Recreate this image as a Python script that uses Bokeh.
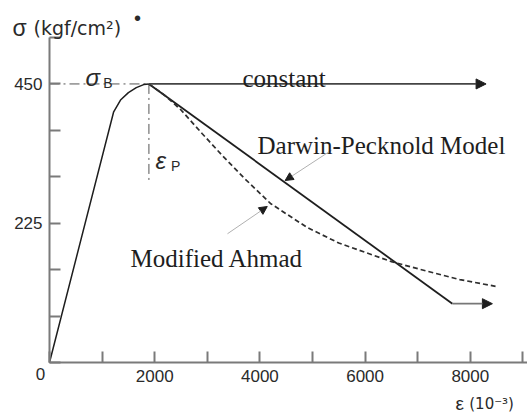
from bokeh.plotting import figure
from bokeh.models import Range1d, FixedTicker, Label, Arrow, NormalHead
from bokeh.embed import file_html
from bokeh.resources import INLINE

# Stress-strain model for concrete in compression (strain in 1e-6, stress in kgf/cm2)
rise_strain = [0, 1220, 1350, 1500, 1650, 1790, 1890]
rise_stress = [0, 405, 424, 436, 444, 449, 450]

peak_strain = 1890
peak_stress = 450

constant_strain = [1890, 8300]
constant_stress = [450, 450]

darwin_strain = [1890, 7660]
darwin_stress = [450, 95]
darwin_tail_strain = [7660, 8420]
darwin_tail_stress = [95, 95]

ahmad_strain = [1890, 2200, 2500, 2900, 3300, 3700, 4200, 4900, 5500, 6000, 6500, 7200, 7800, 8480]
ahmad_stress = [450, 431, 408, 370, 333, 298, 257, 218, 193, 178, 163, 147, 134, 123]

x_ticks = [0, 1000, 2000, 3000, 4000, 5000, 6000, 7000, 8000, 9000]
x_tick_labels = {2000: "2000", 4000: "4000", 6000: "6000", 8000: "8000"}
y_ticks = [0, 75, 150, 225, 300, 375, 450, 525]
y_tick_labels = {225: "225", 450: "450"}

AXIS = "#7a7a7a"
INK = "#1e1e1e"
SERIF = "Liberation Serif"
SANS = "Liberation Sans"

# pixels per unit along each axis; the frame fills the whole canvas and the
# axes sit at the origin inside it
XS = 0.0526
YS = 0.619
W, H = 527, 414
ORIGIN_PX = (49, 362)

p = figure(width=W, height=H, output_backend="svg", toolbar_location=None,
           x_range=Range1d(-ORIGIN_PX[0] / XS, (W - ORIGIN_PX[0]) / XS),
           y_range=Range1d(-(H - ORIGIN_PX[1]) / YS, ORIGIN_PX[1] / YS),
           min_border=0, min_border_left=0, min_border_right=0,
           min_border_top=0, min_border_bottom=0)
p.outline_line_color = None
p.xgrid.visible = False
p.ygrid.visible = False
p.background_fill_color = "white"
p.border_fill_color = "white"

for ax, ticks, labels, bounds in ((p.xaxis[0], x_ticks, x_tick_labels, (0, 9100)),
                                  (p.yaxis[0], y_ticks, y_tick_labels, (0, 525))):
    ax.fixed_location = 0
    ax.bounds = bounds
    ax.ticker = FixedTicker(ticks=ticks)
    ax.major_label_overrides = {t: labels.get(t, "") for t in ticks}
    ax.axis_line_color = AXIS
    ax.axis_line_width = 2
    ax.major_tick_line_color = AXIS
    ax.major_tick_line_width = 2
    ax.major_tick_in = 11
    ax.major_tick_out = 0
    ax.minor_tick_line_color = None
    ax.major_label_text_font = SANS
    ax.major_label_text_font_size = "17px"
    ax.major_label_text_color = "#2a2a2a"
    ax.major_label_standoff = 7

# reference lines marking the peak stress and peak strain
p.line([0, peak_strain], [peak_stress, peak_stress], line_color="#555555", line_width=1,
       line_dash="10 4 2 4")
p.line([peak_strain, peak_strain], [peak_stress, 291], line_color="#555555", line_width=1,
       line_dash="10 4 2 4")

# ascending branch
p.line(rise_strain, rise_stress, line_color=INK, line_width=1.5)

# descending branches
p.line(darwin_strain, darwin_stress, line_color=INK, line_width=1.8)
p.line(ahmad_strain, ahmad_stress, line_color="#2e2e2e", line_width=1.7, line_dash="5 3")

head = dict(fill_color=INK, line_color=INK)
p.add_layout(Arrow(x_start=constant_strain[0], y_start=constant_stress[0],
                   x_end=constant_strain[1], y_end=constant_stress[1],
                   line_color="#444444", line_width=1.8, end=NormalHead(size=10, **head)))
p.add_layout(Arrow(x_start=darwin_tail_strain[0], y_start=darwin_tail_stress[0],
                   x_end=darwin_tail_strain[1], y_end=darwin_tail_stress[1],
                   line_color="#777777", line_width=1.8, end=NormalHead(size=10, **head)))

# leader arrows for the curve names
p.add_layout(Arrow(x_start=5361, y_start=343, x_end=4480, y_end=294,
                   line_color="#b0b0b0", line_width=1, end=NormalHead(size=8, **head)))
p.add_layout(Arrow(x_start=3384, y_start=208, x_end=4140, y_end=252,
                   line_color="#b0b0b0", line_width=1, end=NormalHead(size=8, **head)))


def label(x, y, text, size, font=SANS, style="normal", align="left", baseline="alphabetic",
          color=INK):
    p.add_layout(Label(x=x, y=y, text=text,
                       text_font=font, text_font_size=size, text_font_style=style,
                       text_align=align, text_baseline=baseline, text_color=color))


label(3669, 459, "constant", "25px", font=SERIF)
label(3954, 351, "Darwin-Pecknold Model", "25px", font=SERIF)
label(1540, 168, "Modified Ahmad", "25px", font=SERIF)

# symbols for peak stress and peak strain
label(684, 461, "σ", "24px", style="italic", color="#2a2a2a")
label(1020, 452, "B", "14px", color="#2a2a2a")
label(2015, 326, "ε", "24px", style="italic", color="#2a2a2a")
label(2310, 318, "P", "14px", color="#2a2a2a")

# axis titles and origin
label(-703, 540, "σ", "23px", color="#2a2a2a")
label(-304, 540, "(kgf/cm²)", "19px", font="DejaVu Sans", color="#2a2a2a")
label(1673, 556, "•", "20px", align="center", baseline="middle", color="#2a2a2a")
label(-171, -18, "0", "17px", align="center", baseline="middle", color="#2a2a2a")
label(7718, -67, "ε", "19px", color="#2a2a2a")
label(7980, -67, "(10⁻³)", "15px", font="DejaVu Sans", color="#2a2a2a")

open("out.html", "w").write(file_html(p, INLINE))
